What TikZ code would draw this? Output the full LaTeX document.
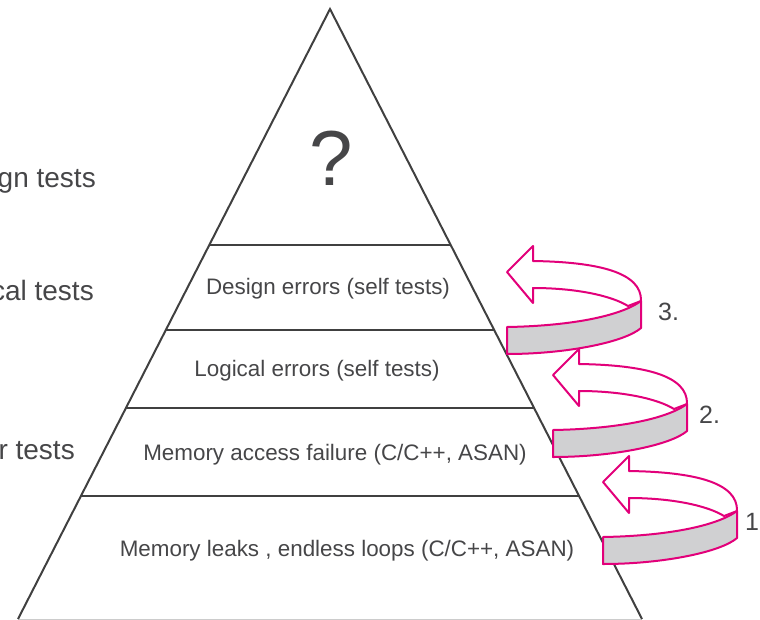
\documentclass[tikz,border=0pt]{standalone}
\usepackage{fontspec}
\setmainfont{Liberation Sans}
\usetikzlibrary{calc}
\definecolor{magentaline}{RGB}{226,0,122}
\definecolor{bandgray}{RGB}{208,208,210}
\definecolor{textgray}{RGB}{70,70,72}

\begin{document}
\begin{tikzpicture}[x=1pt,y=-1pt,
  edge/.style={draw=black!75,line width=2pt},
  layertext/.style={text=textgray,font=\fontsize{22.4}{26}\selectfont,anchor=base,inner sep=0pt},
  sidetext/.style={text=textgray,font=\fontsize{28}{32}\selectfont,anchor=base east,inner sep=0pt},
  turnlabel/.style={text=textgray,font=\fontsize{25}{29}\selectfont,anchor=base west,inner sep=0pt},
  backpart/.style={draw=magentaline,fill=white,line width=2pt,line join=round},
  frontpart/.style={draw=magentaline,fill=bandgray,line width=2pt,line join=round}]
  \useasboundingbox (0,0) rectangle (760,619);

  % pyramid
  \coordinate (apex) at (330,9);
  \coordinate (bl) at (18,619);
  \coordinate (br) at (642,619);
  \draw[black!20,line width=0.8pt] (bl) -- (br);
  \draw[edge] (bl) -- (apex) -- (br);
  \foreach \t in {0.387,0.526,0.654,0.798}
    \draw[edge] ($(apex)!\t!(bl)$) -- ($(apex)!\t!(br)$);

  % layers
  \node[text=textgray,font=\fontsize{78}{84}\selectfont,anchor=base,inner sep=0pt] (top) at (331,185) {?};
  \node[layertext] (design) at (328,294) {Design errors (self tests)};
  \node[layertext] (logical) at (317,376) {Logical errors (self tests)};
  \node[layertext] (access) at (335,460) {Memory access failure (C/C++, ASAN)};
  \node[layertext] (leaks) at (347,556) {Memory leaks , endless loops (C/C++, ASAN)};

  % cut off test names on the left
  \node[sidetext] (designtests) at (96,187) {gn tests};
  \node[sidetext] (logicaltests) at (94,300) {cal tests};
  \node[sidetext] (lowtests) at (75,459) {r tests};

  % turning arrows, lowest first
  \foreach \ax/\ay in {603/482, 553/375, 507/272}{
    \begin{scope}[shift={(\ax,\ay)}]
      \filldraw[backpart] (0,0) -- (26,-26) -- (26,-11)
        .. controls (90,-10) and (135,0) .. (134,29) -- (121,34)
        .. controls (105,24) and (70,16) .. (26,16) -- (26,31) -- cycle;
      \filldraw[frontpart] (0,55) .. controls (60,54) and (112,45) .. (134,29)
        -- (134,56) .. controls (118,70) and (60,82) .. (0,82) -- cycle;
    \end{scope}
  }
  \node[turnlabel] (turn3) at (658,320) {3.};
  \node[turnlabel] (turn2) at (699,423) {2.};
  \node[turnlabel] (turn1) at (745,530) {1};
\end{tikzpicture}
\end{document}
